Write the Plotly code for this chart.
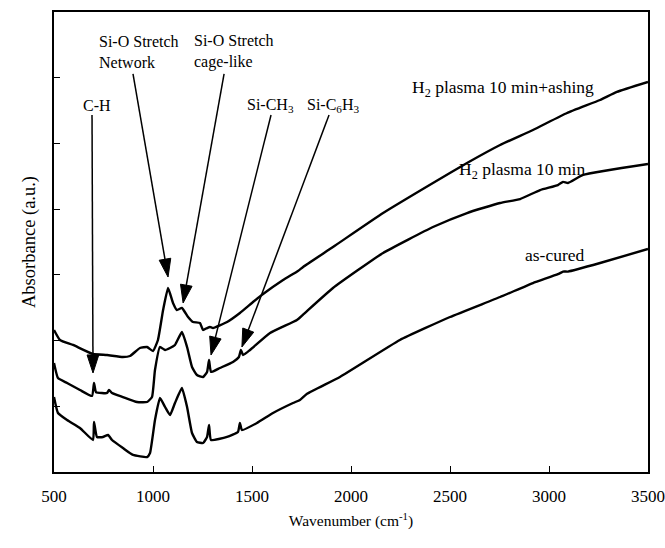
import plotly.graph_objects as go

# FTIR absorbance spectra (arbitrary units, curves offset vertically)
wn_ash = [500, 530, 596, 697, 768, 848, 884, 934, 970, 1000, 1025, 1051, 1076, 1101, 1121,
          1146, 1177, 1202, 1237, 1253, 1273, 1288, 1303, 1374, 1439, 1505, 1556, 1657, 1732,
          1758, 1909, 2162, 2414, 2586, 2753, 2919, 3091, 3258, 3343, 3500]
ab_ash = [2.161, 2.009, 1.933, 1.796, 1.780, 1.750, 1.765, 1.887, 1.902, 1.841, 2.009, 2.465,
          2.800, 2.572, 2.465, 2.496, 2.359, 2.283, 2.267, 2.161, 2.191, 2.207, 2.191, 2.283,
          2.420, 2.587, 2.709, 2.922, 3.059, 3.120, 3.424, 3.941, 4.398, 4.702, 4.976,
          5.204, 5.463, 5.661, 5.783, 5.935]

wn_h2 = [500, 520, 566, 631, 692, 702, 712, 742, 768, 778, 793, 848, 919, 970, 995, 1010,
         1035, 1061, 1086, 1111, 1146, 1172, 1197, 1222, 1253, 1273, 1283, 1293, 1338, 1404,
         1434, 1444, 1455, 1490, 1591, 1727, 1758, 1909, 2162, 2414, 2586, 2753, 2854,
         2955, 3045, 3071, 3096, 3172, 3500]
ab_h2 = [1.659, 1.430, 1.354, 1.248, 1.157, 1.354, 1.217, 1.202, 1.202, 1.248, 1.202, 1.141,
         1.065, 1.065, 1.141, 1.552, 1.902, 1.857, 1.887, 1.933, 2.130, 1.902, 1.598, 1.476,
         1.446, 1.522, 1.704, 1.522, 1.583, 1.674, 1.750, 1.857, 1.780, 1.857, 2.115, 2.313,
         2.395, 2.800, 3.333, 3.728, 3.941, 4.094, 4.154, 4.291, 4.367, 4.415, 4.398,
         4.520, 4.687]

wn_cured = [500, 520, 566, 631, 697, 702, 717, 747, 773, 793, 848, 899, 970, 985, 1010, 1035,
            1061, 1086, 1111, 1146, 1172, 1197, 1222, 1253, 1273, 1283, 1293, 1374, 1429, 1439,
            1449, 1525, 1606, 1707, 1742, 1778, 1944, 2247, 2500, 2753, 2919, 3045, 3071, 3096,
            3258, 3500]
ab_cured = [1.141, 0.898, 0.791, 0.670, 0.487, 0.761, 0.533, 0.533, 0.563, 0.487, 0.365, 0.259,
            0.228, 0.289, 0.791, 1.126, 0.989, 0.867, 1.050, 1.278, 0.989, 0.593, 0.457, 0.441,
            0.533, 0.715, 0.487, 0.533, 0.609, 0.746, 0.639, 0.746, 0.898, 1.050, 1.096, 1.190,
            1.446, 2.009, 2.359, 2.663, 2.876, 3.010, 3.050, 3.050, 3.180, 3.394]

# band assignments: peak (tip) and label-side (tail) ends of each pointer
band_labels = ["C-H", "Si-O Stretch<br>Network", "Si-O Stretch<br>cage-like",
               "Si-CH<sub>3</sub>", "Si-C<sub>6</sub>H<sub>3</sub>"]
band_tip_wn = [697, 1076, 1152, 1293, 1449]
band_tip_ab = [1.507, 2.967, 2.572, 1.780, 1.902]
band_tail_wn = [692, 899, 1359, 1596, 1889]
band_tail_ab = [5.433, 6.057, 6.057, 5.433, 5.433]
band_text_wn = [715, 717, 1197, 1591, 1914]
band_text_ab = [5.570, 6.392, 6.392, 5.570, 5.570]
band_text_anchor = ["center", "left", "left", "center", "center"]

series_names = ["H<sub>2</sub> plasma 10 min+ashing", "H<sub>2</sub> plasma 10 min", "as-cured"]
series_label_wn = [2298, 2535, 2869]
series_label_ab = [5.829, 4.581, 3.302]

x_ticks = [500, 1000, 1500, 2000, 2500, 3000, 3500]

FONT = "Liberation Serif, Times New Roman, serif"

fig = go.Figure()
for wn, ab, name in [(wn_ash, ab_ash, series_names[0]),
                     (wn_h2, ab_h2, series_names[1]),
                     (wn_cured, ab_cured, series_names[2])]:
    fig.add_trace(go.Scatter(x=wn, y=ab, mode="lines", name=name,
                             line=dict(color="black", width=2.4, shape="spline", smoothing=0.4),
                             hoverinfo="skip", showlegend=False))

# pointer lines with filled arrowheads at the band positions
for tx, ty, hx, hy in zip(band_tip_wn, band_tip_ab, band_tail_wn, band_tail_ab):
    fig.add_trace(go.Scatter(x=[hx, tx], y=[hy, ty], mode="lines+markers",
                             line=dict(color="black", width=1.5),
                             marker=dict(symbol=["circle", "arrow"], size=[0, 19],
                                         color="black", angleref="previous", opacity=1,
                                         line=dict(width=1, color="black")),
                             hoverinfo="skip", showlegend=False))

annotations = []
for lbl, twn, tab, anc in zip(band_labels, band_text_wn, band_text_ab, band_text_anchor):
    annotations.append(dict(x=twn, y=tab, xref="x", yref="y", text=lbl, showarrow=False,
                            xanchor=anc, yanchor="middle", align="left",
                            font=dict(family=FONT, size=16, color="black")))

for name, twn, tab in zip(series_names, series_label_wn, series_label_ab):
    annotations.append(dict(x=twn, y=tab, xref="x", yref="y", text=name, showarrow=False,
                            xanchor="left", yanchor="middle",
                            font=dict(family=FONT, size=17.5, color="black")))

fig.update_layout(
    width=665, height=548,
    margin=dict(l=54, r=17, t=12, b=76),
    paper_bgcolor="white", plot_bgcolor="white",
    font=dict(family=FONT, size=16, color="black"),
    annotations=annotations,
    xaxis=dict(range=[500, 3500], tickvals=x_ticks, ticks="inside", ticklen=6,
               tickcolor="black", showline=True, linecolor="black", linewidth=2,
               mirror=True, showgrid=False, zeroline=False, automargin=False,
               ticklabelstandoff=8,
               tickfont=dict(family=FONT, size=17),
               title=dict(text="Wavenumber (cm<sup>-1</sup>)", standoff=10,
                          font=dict(family=FONT, size=15.5))),
    yaxis=dict(range=[0, 7], dtick=1, ticks="inside", ticklen=6, tickcolor="black",
               showticklabels=False, showline=True, linecolor="black", linewidth=2,
               mirror=True, showgrid=False, zeroline=False, automargin=False,
               title=dict(text="Absorbance (a.u.)", standoff=12,
                          font=dict(family=FONT, size=18.5))),
)

fig.write_html("out.html")
